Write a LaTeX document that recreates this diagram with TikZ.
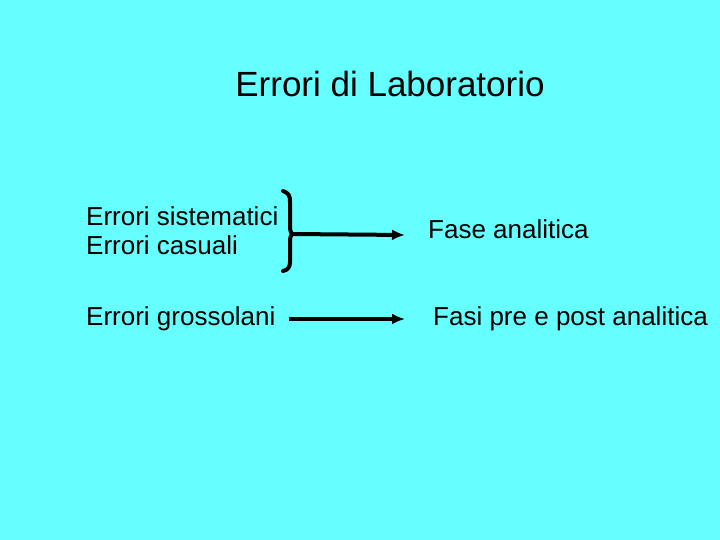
\documentclass[tikz,border=0pt]{standalone}
\usepackage{fontspec}
\setmainfont{Liberation Sans}
\usetikzlibrary{arrows.meta}
\definecolor{bg}{HTML}{66FFFF}
\begin{document}
\begin{tikzpicture}[x=1pt,y=-1pt,
  lbl/.style={anchor=west,inner sep=0pt,font=\fontsize{26}{30}\selectfont},
  arr/.style={line width=4pt,-{Latex[length=13pt,width=11pt]}},
]
\fill[bg] (0,0) rectangle (720,540);
\useasboundingbox (0,0) rectangle (720,540);
\node[inner sep=0pt,font=\fontsize{35}{40}\selectfont] (title) at (390,84) {Errori di Laboratorio};
\node[lbl] (sis) at (86,216) {Errori sistematici};
\node[lbl] (cas) at (86,245) {Errori casuali};
\node[lbl] (gro) at (86,319) {Errori grossolani};
\node[lbl] (fa) at (428,229) {Fase analitica};
\node[lbl] (fp) at (433,319) {Fasi pre e post analitica};
\coordinate (tip) at (292,234);
\coordinate (a1) at (405,235);
\coordinate (b0) at (289,319);
\coordinate (b1) at (405,319);
\draw[line width=4pt,line cap=round] (283,191) .. controls (289,193) and (290,196) .. (290,202)
  -- (290,226) .. controls (290,231) and (291,233) .. (tip)
  .. controls (291,235) and (290,237) .. (290,242)
  -- (290,262) .. controls (290,267) and (288,270) .. (283,271);
\draw[arr] (tip) -- (a1);
\draw[arr] (b0) -- (b1);
\end{tikzpicture}
\end{document}
